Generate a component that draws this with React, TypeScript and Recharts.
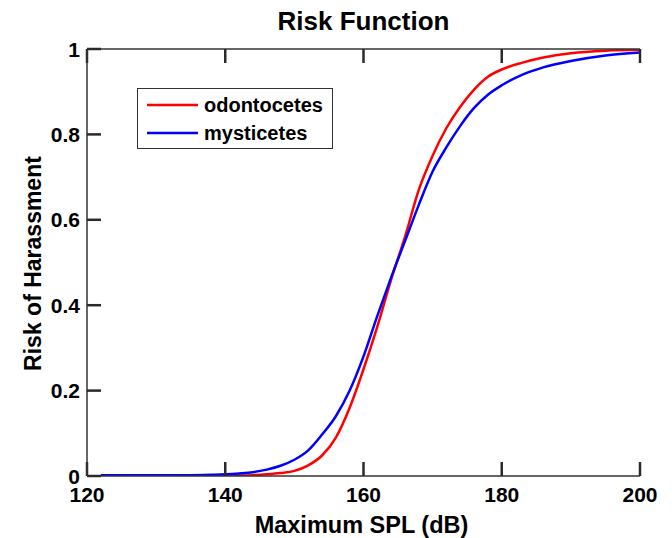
import { Label, Legend, Line, LineChart, XAxis, YAxis } from "recharts";

const spl = [122, 126, 130, 134, 138, 140, 142, 144, 146, 148, 150, 152, 154, 156, 158, 160, 162, 164, 166, 168, 170, 172, 174, 176, 178, 180, 183, 186, 190, 195, 200];
const odontocetes = [0, 0, 0, 0, 0, 0.0005, 0.001, 0.002, 0.004, 0.007, 0.012, 0.025, 0.048, 0.09, 0.16, 0.25, 0.35, 0.46, 0.56, 0.67, 0.75, 0.815, 0.865, 0.905, 0.935, 0.952, 0.968, 0.98, 0.99, 0.996, 0.998];
const mysticetes = [0.002, 0.002, 0.002, 0.002, 0.003, 0.004, 0.006, 0.009, 0.015, 0.024, 0.038, 0.06, 0.097, 0.14, 0.2, 0.28, 0.375, 0.465, 0.55, 0.635, 0.713, 0.77, 0.82, 0.862, 0.893, 0.915, 0.94, 0.957, 0.972, 0.985, 0.992];
const xTicks = [120, 140, 160, 180, 200];
const yTicks = [0, 0.2, 0.4, 0.6, 0.8, 1];

const chartData = spl.map((x, i) => ({ spl: x, odontocetes: odontocetes[i], mysticetes: mysticetes[i] }));

const FONT = "'Liberation Sans', Arial, Helvetica, sans-serif";
const AXIS = "#333333";
// negative tick size -> ticks point into the plot, matlab box style
const TICK_LEN = 14;

const tickText = { fontFamily: FONT, fontWeight: 700, fontSize: 21, fill: "#000" };
const tickLineStyle = { stroke: "#2a2a2a", strokeWidth: 2.5 };
const axisLineStyle = { stroke: AXIS, strokeWidth: 1.5 };

// label (x, y) arrives shifted inward by TICK_LEN, undo that
const BottomTick = ({ x, y, payload }: any) => (
  <text x={x} y={y + TICK_LEN + 26} textAnchor="middle" {...tickText}>{payload.value}</text>
);
const LeftTick = ({ x, y, payload }: any) => (
  <text x={x - TICK_LEN - 7} y={y + 7.5} textAnchor="end" {...tickText}>{payload.value}</text>
);
const NoLabel = () => <g />;

const titleText = { fontFamily: FONT, fontWeight: 700, fontSize: 23, fill: "#000" };

const XTitle = ({ viewBox }: any) => (
  <text x={viewBox.x + viewBox.width / 2 - 2} y={viewBox.y + 57} textAnchor="middle" {...titleText} fontSize={23.5}>
    Maximum SPL (dB)
  </text>
);
const YTitle = ({ viewBox }: any) => {
  const cx = viewBox.x + 14;
  const cy = viewBox.y + viewBox.height / 2 + 1;
  return (
    <text x={cx} y={cy} textAnchor="middle" transform={`rotate(-90 ${cx} ${cy})`} {...titleText}>
      Risk of Harassment
    </text>
  );
};
const ChartTitle = ({ viewBox }: any) => (
  <text x={viewBox.x + viewBox.width / 2} y={viewBox.y + viewBox.height - 19} textAnchor="middle" {...titleText} fontSize={26}>
    Risk Function
  </text>
);

const legendItems = [
  { name: "odontocetes", color: "#ff0000" },
  { name: "mysticetes", color: "#0000ff" },
];

const BoxLegend = () => (
  <div
    style={{
      width: 194,
      height: 59,
      border: `1.5px solid ${AXIS}`,
      background: "#fff",
      fontFamily: FONT,
      fontWeight: 700,
      fontSize: 20,
      color: "#000",
      boxSizing: "content-box",
    }}
  >
    {legendItems.map((it, i) => (
      <div key={it.name} style={{ display: "flex", alignItems: "center", height: 28, marginTop: i === 0 ? 2 : 0 }}>
        <svg width={66} height={10} style={{ display: "block" }}>
          <line x1={9} y1={5} x2={60} y2={5} stroke={it.color} strokeWidth={2.5} />
        </svg>
        <span style={{ lineHeight: "20px" }}>{it.name}</span>
      </div>
    ))}
  </div>
);

export default function App() {
  return (
    <div style={{ position: "absolute", left: 0, top: 0, width: 672, height: 538, background: "#fff" }}>
      <LineChart width={672} height={538} data={chartData} margin={{ top: 39, right: 32, bottom: 22, left: 27 }}>
        <XAxis
          dataKey="spl"
          type="number"
          domain={[120, 200]}
          ticks={xTicks}
          allowDataOverflow
          height={40}
          tickSize={-TICK_LEN}
          tickMargin={0}
          tickLine={tickLineStyle}
          axisLine={axisLineStyle}
          tick={<BottomTick />}
          interval={0}
        >
          <Label content={<XTitle />} />
        </XAxis>
        <XAxis
          xAxisId="top"
          orientation="top"
          dataKey="spl"
          type="number"
          domain={[120, 200]}
          ticks={xTicks}
          allowDataOverflow
          height={10}
          tickSize={-TICK_LEN}
          tickMargin={0}
          tickLine={tickLineStyle}
          axisLine={axisLineStyle}
          tick={<NoLabel />}
          interval={0}
        >
          <Label content={<ChartTitle />} />
        </XAxis>
        <YAxis
          type="number"
          domain={[0, 1]}
          ticks={yTicks}
          allowDataOverflow
          width={60}
          tickSize={-TICK_LEN}
          tickMargin={0}
          tickLine={tickLineStyle}
          axisLine={axisLineStyle}
          tick={<LeftTick />}
          interval={0}
        >
          <Label content={<YTitle />} />
        </YAxis>
        <YAxis
          yAxisId="right"
          orientation="right"
          type="number"
          domain={[0, 1]}
          ticks={yTicks}
          allowDataOverflow
          width={0}
          tickSize={-TICK_LEN}
          tickMargin={0}
          tickLine={tickLineStyle}
          axisLine={axisLineStyle}
          tick={<NoLabel />}
          interval={0}
        />
        <Legend
          layout="horizontal"
          align="center"
          verticalAlign="middle"
          content={<BoxLegend />}
          wrapperStyle={{ left: 137, top: 88, width: "auto" }}
        />
        <Line type="monotone" dataKey="odontocetes" stroke="#ff0000" strokeWidth={2.5} dot={false} isAnimationActive={false} />
        <Line type="monotone" dataKey="mysticetes" stroke="#0000ff" strokeWidth={2.5} dot={false} isAnimationActive={false} />
      </LineChart>
    </div>
  );
}
